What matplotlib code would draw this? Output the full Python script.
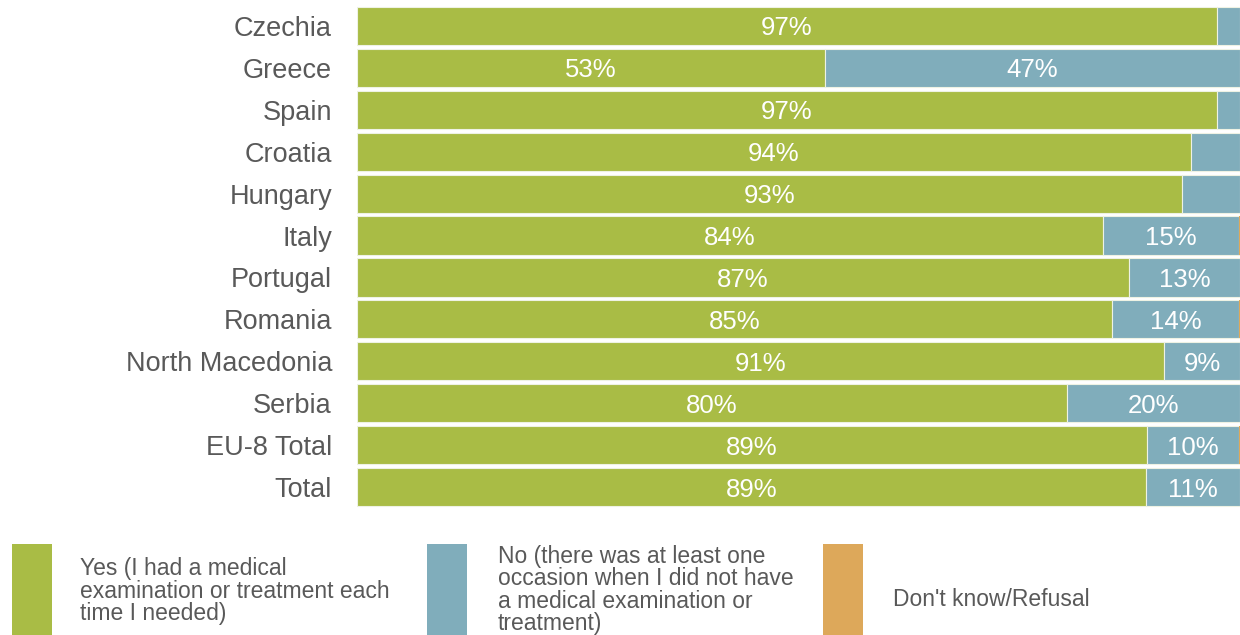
import matplotlib.pyplot as plt
from matplotlib.patches import Rectangle

countries = ["Czechia", "Greece", "Spain", "Croatia", "Hungary", "Italy",
             "Portugal", "Romania", "North Macedonia", "Serbia",
             "EU-8 Total", "Total"]
yes_pct = [97.4, 53.0, 97.4, 94.4, 93.4, 84.45, 87.4, 85.45, 91.4, 80.4, 89.45, 89.4]
no_pct = [2.6, 47.0, 2.6, 5.6, 6.6, 15.45, 12.6, 14.45, 8.6, 19.6, 10.45, 10.6]
dk_pct = [0, 0, 0, 0, 0, 0.1, 0, 0.1, 0, 0, 0.1, 0]

legend_labels = [
    "Yes (I had a medical\nexamination or treatment each\ntime I needed)",
    "No (there was at least one\noccasion when I did not have\na medical examination or\ntreatment)",
    "Don't know/Refusal",
]

GREEN = "#A9BC45"
BLUE = "#80ADBB"
ORANGE = "#DDA85A"
TEXT = "#595959"

plt.rcParams['font.family'] = ['Liberation Sans', 'DejaVu Sans']

fig = plt.figure(figsize=(12.4, 6.35), dpi=100)
ax = fig.add_axes([357 / 1240, 1 - 508 / 635, 1 - 357 / 1240, 503 / 635])

ypos = list(range(len(countries)))
h = 0.91
edge = dict(edgecolor="#EEF2E4", linewidth=0.8)
ax.barh(ypos, yes_pct, height=h, color=GREEN, **edge)
ax.barh(ypos, no_pct, left=yes_pct, height=h, color=BLUE, **edge)
left_dk = [a + b for a, b in zip(yes_pct, no_pct)]
ax.barh(ypos, dk_pct, left=left_dk, height=h, color=ORANGE, linewidth=0)

# value labels, only on segments wide enough to hold them
for i in ypos:
    for start, val in [(0, yes_pct[i]), (yes_pct[i], no_pct[i])]:
        if val >= 8.5:
            ax.text(start + val / 2, i + 0.06, f"{val:.0f}%", ha="center",
                    va="center", color="white", fontsize=18.5,
                    fontweight="medium")

ax.set_xlim(0, 100)
ax.set_ylim(len(countries) - 0.5, -0.5)
ax.set_yticks(ypos)
ax.set_yticklabels(countries, fontsize=19.5, color=TEXT)
ax.tick_params(axis="y", length=0, pad=18)
ax.set_xticks([])
for s in ax.spines.values():
    s.set_visible(False)

# legend along the bottom
W, H = 1240, 635
items = [
    (12, GREEN, 80, 591, legend_labels[0]),
    (427, BLUE, 498, 590, legend_labels[1]),
    (823, ORANGE, 893, 600, legend_labels[2]),
]
for x0, col, tx, ty, lab in items:
    fig.add_artist(Rectangle((x0 / W, 0), 40 / W, (H - 544) / H,
                             transform=fig.transFigure, facecolor=col,
                             edgecolor="none"))
    fig.text(tx / W, 1 - ty / H, lab, ha="left", va="center",
             fontsize=16.5, color=TEXT, linespacing=0.95)

fig.savefig("out.png", dpi=100, facecolor="white")
